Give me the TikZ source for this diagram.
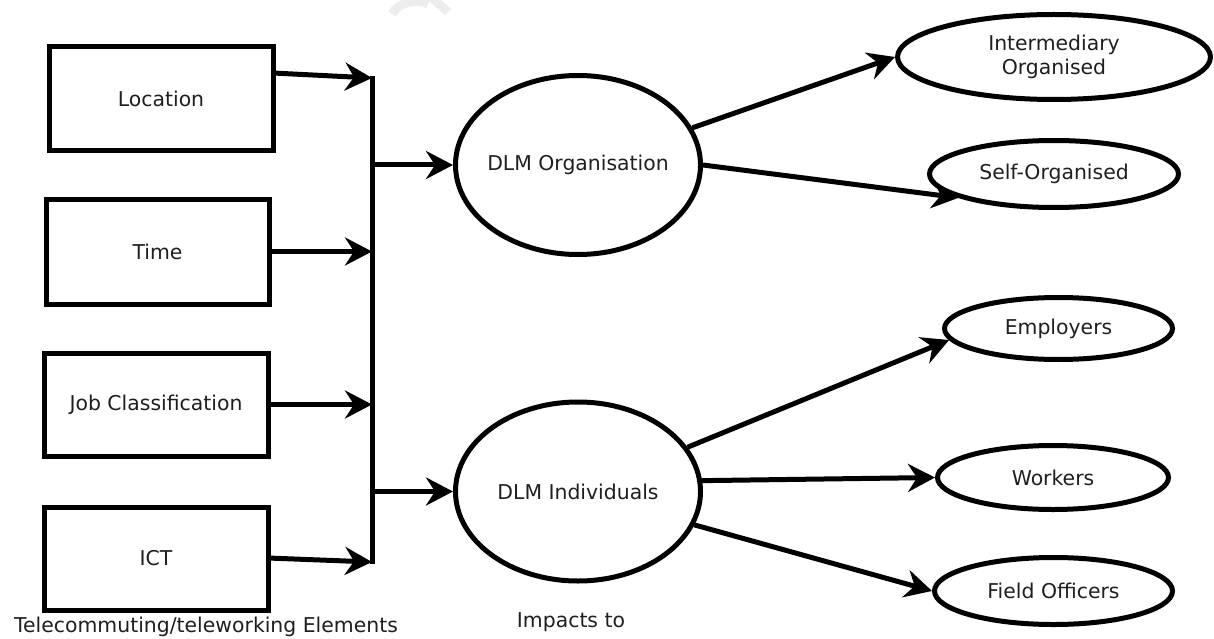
\documentclass[tikz,border=0pt]{standalone}
\usepackage{fontspec}
\setmainfont{DejaVu Sans}
\usetikzlibrary{arrows.meta,shapes.geometric}
\begin{document}
\begin{tikzpicture}[x=1pt,y=-1pt,
  every node/.style={font=\fontsize{20.4}{23.5}\selectfont, inner sep=0pt, text=black!88},
  elembox/.style={draw, line width=5pt, rectangle, minimum width=224pt, minimum height=104pt},
  oval/.style={draw, line width=5pt, ellipse, align=center},
  bigoval/.style={oval, inner xsep=-20pt, minimum width=245pt, minimum height=179pt},
  flow/.style={line width=5pt, -{Stealth[length=27pt, width=28pt, inset=9pt]}},
  barline/.style={line width=5pt},
  caption/.style={font=\fontsize{20.4}{23.5}\selectfont}
]
\useasboundingbox (0,0) rectangle (1214,639);

% faint watermark fragment at the top edge
\begin{scope}[gray!14, line width=9pt]
  \draw (392,14) .. controls (398,2) and (418,-2) .. (428,4);
  \draw (430,-4) -- (448,12);
\end{scope}

% telecommuting elements
\node[elembox] (loc) at (161,99) {Location};
\node[elembox, minimum width=223pt, minimum height=105pt] (tim) at (157.5,251.5) {Time};
\node[elembox, minimum height=103pt] (job) at (156,404.5) {Job Classification};
\node[elembox, minimum height=103pt] (ict) at (156,558.5) {ICT};
\node[caption] (cap1) at (206,627) {Telecommuting/teleworking Elements};

% collecting bar
\coordinate (bartop) at (372,76);
\coordinate (barbot) at (372,564);
\draw[barline] (bartop) -- (barbot);

% central impacts
\node[bigoval] (org) at (578,165) {DLM Organisation};
\node[bigoval] (ind) at (578,491.5) {DLM Individuals};
\node[caption] (cap2) at (571,622) {Impacts to};

% outcome ovals
\node[oval, minimum width=313pt, minimum height=85pt] (inter) at (1054,57) {Intermediary\\Organised};
\node[oval, minimum width=249pt, minimum height=67pt] (self) at (1054,174) {Self-Organised};
\node[oval, minimum width=228pt, minimum height=62pt] (emp) at (1058.5,328.5) {Employers};
\node[oval, minimum width=231pt, minimum height=64pt] (wrk) at (1053,477.5) {Workers};
\node[oval, minimum width=238pt, minimum height=67pt] (fo) at (1053.5,591) {Field Officers};

% elements into the bar
\coordinate (locout) at (273,73);
\coordinate (locin) at (372,78);
\coordinate (ictout) at (268,558);
\coordinate (ictin) at (372,562);
\draw[flow] (locout) -- (locin);
\draw[flow] (tim.east) -- (tim.east -| bartop);
\draw[flow] (job.east) -- (job.east -| bartop);
\draw[flow] (ictout) -- (ictin);

% bar into the impacts
\draw[flow] (org.west -| bartop) -- (org.west);
\draw[flow] (ind.west -| bartop) -- (ind.west);

% impacts to outcomes
\draw[flow] (org.18) -- (inter.west);
\draw[flow] (org.east) -- (self.194);
\draw[flow] (ind.22) -- (emp.186);
\draw[flow] (ind.5) -- (wrk.west);
\draw[flow] (ind.-16) -- (fo.west);
\end{tikzpicture}
\end{document}
